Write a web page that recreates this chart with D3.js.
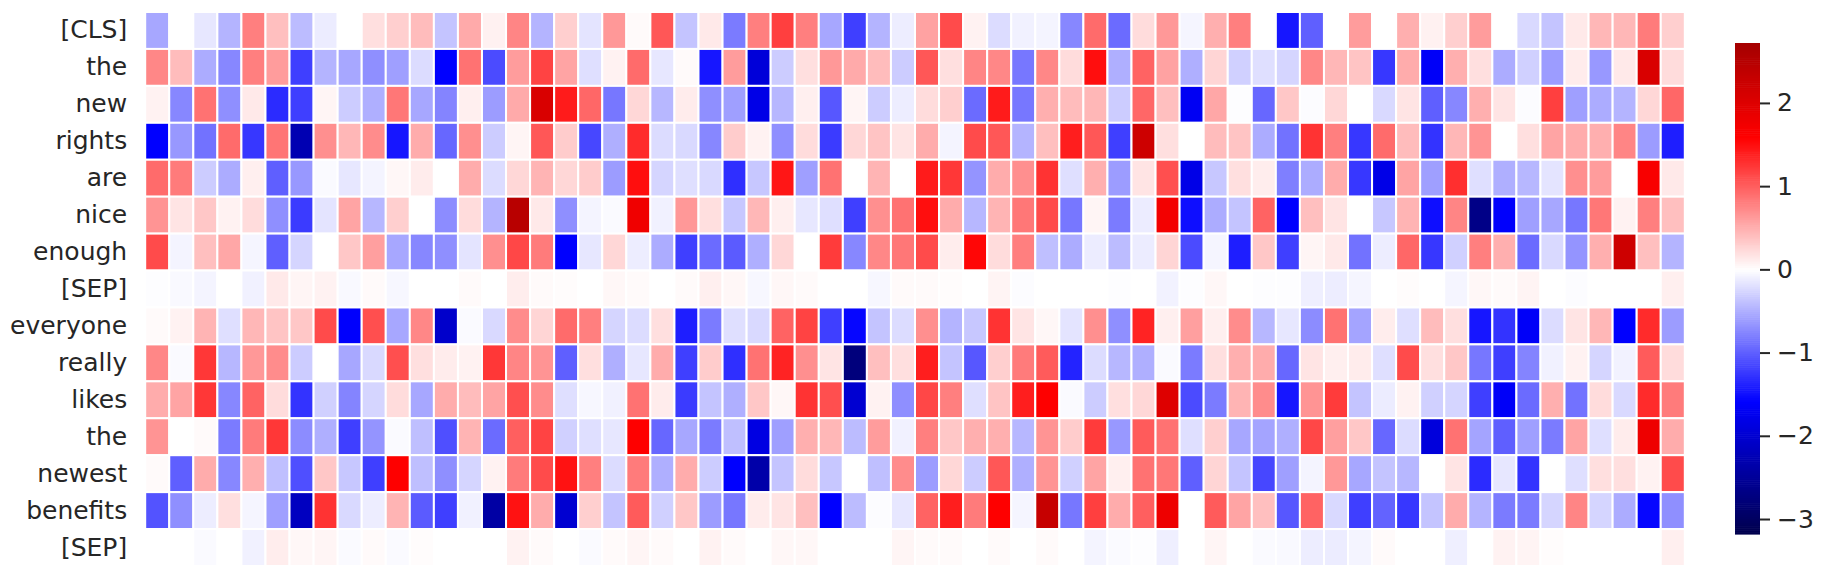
<!DOCTYPE html>
<html><head><meta charset="utf-8">
<style>html,body{margin:0;padding:0;background:#fff}svg{display:block}text{font-family:"DejaVu Sans",sans-serif}</style>
<script src="https://cdn.jsdelivr.net/npm/d3@7/dist/d3.min.js"></script></head>
<body><svg id="c" width="1824" height="578"></svg>
<script>
const tokens=["[CLS]","the","new","rights","are","nice","enough","[SEP]","everyone","really","likes","the","newest","benefits","[SEP]"];
const colorTicks=[-3,-2,-1,0,1,2];
const vMin=-3.18, vMax=2.72;
const r00=[-.55,0,-.15,-.47,.8,.4,-.42,-.12,0,.2,.3,.42,-.37,.53,.09,.76,-.47,.3,-.17,.64,.03,1.05,-.37,.14,-.82,.8,1.2,.8,-.55,-1.2,-.47,-.11,.58,1.12,.08,-.22,-.09,-.07,-.75,.92,-.92,.22,.64,-.06,.5,.8,0,-1.45,-1,0,.62,0,.5,.09,.3,.62,0,-.24,-.37,.14,.45,.45,.82,.3];
const r01=[.75,.42,-.52,-.75,.8,.62,-1.2,-.47,-.55,-.7,-.6,-.22,-1.59,.88,-1.12,.62,1.17,.57,-.2,.08,.92,-.15,.03,-1.45,.62,-1.93,-.32,.2,.64,.53,.42,-.32,1.05,.2,.76,.75,-.85,.75,.22,1.5,-.5,.97,.58,-.5,.26,-.29,-.2,-.26,.75,.45,.37,-1.25,.52,-1.65,.5,.2,-.52,-.29,-.62,.12,-.64,.14,2.07,.22];
const r02=[.08,-.75,.88,-.7,.14,-1.32,-1.2,.06,-.32,-.5,.85,-.55,-.77,.1,-.62,.53,2.07,1.42,.95,-.85,.25,-.45,.12,-.7,-.6,-1.8,-.45,.1,-1.05,.06,-.32,-.11,.22,.3,-.92,1.42,-.85,.5,.42,.45,-.32,.95,.4,-1.7,.55,-.01,-.95,.35,-.02,.25,0,-.24,.17,-1,-.75,.5,.17,-.02,1.2,-.6,-.52,-.47,.25,.95];
const r03=[-1.59,-.64,-.88,.92,-1.25,.86,-2.27,.7,.45,.72,-1.45,.52,-.95,.7,-.32,.06,1.05,.32,-1.15,-.5,1.32,-.22,-.24,-.75,.32,.08,-.7,.22,-1.22,.25,.37,.17,.52,-.07,1.12,1.05,-.47,.4,1.4,1.05,-1.2,2.22,.2,0,.42,.37,-.52,-.88,1.27,.8,-1.25,.92,.42,-1.27,.45,.67,0,.2,.57,.52,.5,.76,-.62,-1.4];
const r04=[.92,.82,-.32,-.52,.1,-1,-.64,-.03,-.15,-.07,.05,.12,0,.52,-.22,.25,.47,.25,.32,-.62,1.5,-.26,-.2,-.24,-1.3,-.35,1.45,-.6,.88,0,.47,0,1.42,1.25,-.67,.52,.7,1.27,-.2,.5,-.62,.17,1.1,-1.8,-.35,.2,.11,-.8,-.52,.52,-1.25,-1.8,.57,-.6,1.3,-.2,-.5,-.45,-.17,.7,.62,0,1.68,.14];
const r05=[.67,.17,.35,.08,.22,-.7,-1.22,-.17,.57,-.45,.3,0,-.72,.22,-.47,2.48,.14,-.7,-.07,-.03,1.78,-.09,.64,.2,-.35,.45,.1,-.15,-.2,-1.2,.7,.88,1.5,.52,-.45,.47,.85,1.12,-.85,.06,-.82,-.12,1.74,-1.5,-.52,-.37,.97,-1.6,.4,.17,0,-.35,.47,-1.5,.76,-2.66,-1.62,-.6,-.55,-.85,.85,.08,.8,.4];
const r06=[1.12,-.07,.4,.55,-.06,-1,-.26,0,.35,.6,-.55,-.75,-.7,-.17,.7,1.15,.82,-1.6,-.15,.25,-.11,-.52,-1.2,-.92,-1.02,-.5,.25,0,1.22,-.75,.75,.85,1.12,.11,1.55,.22,.8,-.4,-.52,-.12,-.42,-.12,.26,-1.12,-.06,-1.4,.35,-1.2,.06,.14,-.88,-.11,.95,-1.25,-.29,.8,.5,-.92,-.24,-.67,.5,2.22,.4,-.47];
const r07=[-.01,-.04,-.07,0,-.09,.14,.06,.08,-.04,.03,-.05,0,0,.03,0,.11,.03,.02,0,.05,.03,0,.03,.1,.05,-.05,.05,.03,0,0,-.05,.03,.03,.02,0,.07,-.02,0,0,0,-.01,0,-.08,-.01,.05,0,-.01,-.01,-.1,-.11,-.06,0,.02,0,-.06,.05,.03,.07,0,-.02,0,0,0,.1];
const r08=[.03,.08,.47,-.2,.45,.37,.35,1.12,-1.62,1.1,-.55,.75,-2.05,-.03,-.24,.72,.26,.92,.8,-.26,-.22,.2,-1.4,-.82,-.2,-.24,.97,1.17,-1.2,-1.55,-.37,-.22,.7,-.47,-.35,1.27,.17,.05,-.17,.7,-.7,1.37,.1,.6,.1,.72,-.45,-.15,-.72,.88,-.57,.11,-.2,.42,.2,-1.45,-1.27,-1.65,-.22,.17,.45,-1.6,1.32,-.62];
const r09=[.75,-.03,1.25,-.45,.64,.72,-.32,0,-.55,-.24,1.1,.2,.12,.08,1.25,.76,.67,-1,.2,-.5,-.15,.52,-1.2,.32,-1.3,.88,1.37,.7,.17,-2.75,.4,.2,1.4,-.37,-1.05,.3,.82,1.02,-1.37,-.22,-.45,-.5,-.03,-.82,.2,.5,.52,-.95,.17,.1,.12,-.2,1.12,.2,.35,-.85,-1.2,-.77,-.09,.08,-.26,-.08,1.02,.22];
const r10=[.52,.57,1.25,-.75,.97,.22,-1.27,-.29,-.77,-.26,.22,-.55,.52,.42,.57,1.1,.72,-.2,-.05,-.09,.88,.12,-1.22,-.37,-.5,.35,.05,1.27,1.1,-2,.08,-.7,1.15,.8,-.2,.37,1.4,1.6,-.03,-.32,.2,.25,2,-1.12,-.82,.47,.72,-1.45,.67,1.22,-.37,-.12,.08,-.29,-.26,-1.2,-1.65,-.92,.5,-.88,.22,-.24,1.32,.82];
const r11=[.67,0,.03,-.82,.82,1.25,-.72,-.5,-1.2,-.67,-.03,-.4,-1.1,.47,-.92,1,1.17,-.29,-.2,-.15,1.6,-.95,-.55,-.82,-.4,-1.85,-.6,.5,.45,-.42,.62,-.09,.8,.35,.5,.5,-.45,.67,.32,1.22,-.64,1.02,.88,-.2,.3,-.55,-.57,-.5,1.15,.6,.35,-.95,-.22,-1.9,.88,-.57,-1,-.6,-.82,.57,-.2,.12,1.8,.52];
const r12=[.03,-1,.52,-.75,.5,-.4,-1.1,.35,-.35,-1.2,1.6,-.4,-.7,-.26,.08,.82,1.12,1.48,.8,-.22,.82,-.5,.52,-.32,-1.6,-2.35,-.37,.22,-.35,0,-.4,.72,-.62,.25,-.32,1.05,-.5,.67,-.29,.57,.1,.88,.85,-1,.26,-.37,-1.15,-.6,-.07,.64,-.55,-.37,-.45,0,.17,-1.32,-.15,-1.27,0,-.2,.2,.2,.08,1.12];
const r13=[-1.07,-.7,-.11,.2,-.06,-.6,-2.15,1.27,-.24,-.11,.47,-1.02,-1.2,-.09,-2.4,1.48,.52,-2,.3,-.37,1.02,-.29,.35,-.62,-.85,.12,.17,.4,-1.6,-.42,-.02,-.15,.97,1.4,.82,1.6,-.06,2.3,-.85,1.2,.52,1,1.8,0,1.02,.57,.4,-1.05,.97,-.24,-1.2,-.97,-1.25,-.37,.52,-.47,-.82,-.82,-.26,.76,-.26,-.52,-1.55,-.7];
const r14=[0,0,-.03,0,-.09,.11,.05,.06,-.03,.03,-.03,.02,0,0,0,.08,.03,0,-.03,.03,.06,.03,0,.08,.03,0,.05,.05,0,0,0,.06,.03,.03,0,.03,0,.03,0,-.07,-.03,-.01,-.1,0,.06,0,-.03,-.04,-.11,-.12,-.07,.03,0,0,-.1,0,.08,.07,.02,0,0,0,0,.1];
const rows=[r00,r01,r02,r03,r04,r05,r06,r07,r08,r09,r10,r11,r12,r13,r14];

const plot={left:145.2,right:1684.8,top:12,bottom:566};
const cbar={left:1735,right:1760,top:43,bottom:534};
const svg=d3.select("#c");
const x=d3.scaleBand().domain(d3.range(rows[0].length)).range([plot.left,plot.right]);
const y=d3.scaleBand().domain(d3.range(tokens.length)).range([plot.top,plot.bottom]);
const vr=Math.max(Math.abs(vMin),Math.abs(vMax));
const seismic=d3.scaleLinear().domain([-vr,-vr/2,0,vr/2,vr]).range(["#00004c","#0000ff","#ffffff","#ff0000","#800000"]).clamp(true);

rows.forEach((r,i)=>{
  svg.append("g").selectAll("rect").data(r).join("rect")
    .attr("x",(d,j)=>x(j)).attr("y",y(i)).attr("width",x.bandwidth()).attr("height",y.bandwidth())
    .attr("fill",d=>seismic(d)).attr("stroke","#fff").attr("stroke-width",2);
});
const ax=svg.append("g").attr("transform",`translate(${plot.left},0)`)
  .call(d3.axisLeft(d3.scaleBand().domain(d3.range(tokens.length)).range([plot.top,plot.bottom])).tickSize(0).tickPadding(18).tickFormat(i=>tokens[i]));
ax.select(".domain").remove();
ax.selectAll("text").attr("font-size",25).attr("fill","#262626").style("font-family",'"DejaVu Sans"');

const cy=d3.scaleLinear().domain([vMin,vMax]).range([cbar.bottom,cbar.top]);
const lv=d3.range(256).map(i=>vMin+(vMax-vMin)*(i+.5)/256);
const step=(vMax-vMin)/256;
svg.append("g").selectAll("rect").data(lv).join("rect")
  .attr("x",cbar.left).attr("width",cbar.right-cbar.left)
  .attr("y",d=>cy(d+step/2)).attr("height",d=>cy(d-step/2)-cy(d+step/2)+.6)
  .attr("fill",d=>seismic(d));
const cax=svg.append("g").attr("transform",`translate(${cbar.right},0)`)
  .call(d3.axisRight(cy).tickValues(colorTicks).tickSize(10).tickPadding(7).tickFormat(d=>String(d).replace("-","\u2212")));
cax.select(".domain").remove();
cax.selectAll("line").attr("stroke","#262626").attr("stroke-width",2);
cax.selectAll("text").attr("font-size",25).attr("fill","#262626").style("font-family",'"DejaVu Sans"');
</script></body></html>
